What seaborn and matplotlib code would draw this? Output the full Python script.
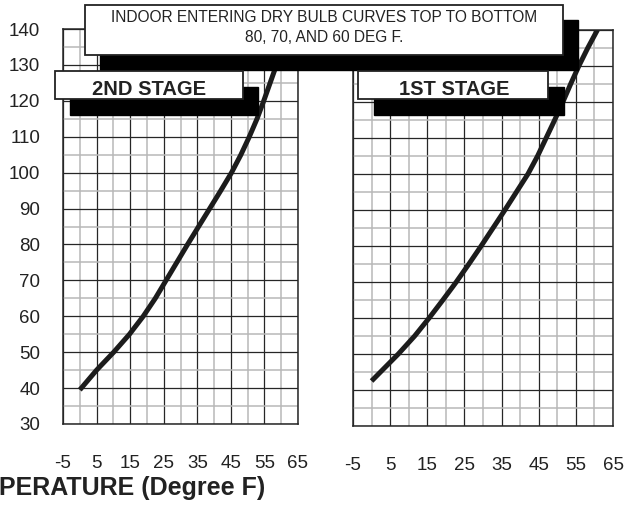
import pandas as pd
import seaborn as sns
import matplotlib.pyplot as plt
from matplotlib.patches import Rectangle

# outdoor temperature (deg F) vs reading
outdoor_2nd = [0, 5.0, 10.1, 14.8, 18.9, 22.5, 25.7, 28.9, 32.1, 35.4, 38.7, 42.0,
               45.2, 48.0, 50.5, 52.8, 54.8, 56.7, 58.6, 60.5, 62.4]
value_2nd = [39.5, 45, 50, 55, 60, 65, 70, 75, 80, 85, 90, 95,
             100, 105, 110, 115, 120, 125, 130, 135, 140]

outdoor_1st = [0, 2.4, 7.2, 11.6, 15.5, 19.2, 22.8, 26.2, 29.5, 32.7, 35.9, 39.0,
               42.1, 44.7, 47.0, 49.3, 51.5, 53.6, 55.8, 58.2, 60.8]
value_1st = [42.5, 45, 50, 55, 60, 65, 70, 75, 80, 85, 90, 95,
             100, 105, 110, 115, 120, 125, 130, 135, 140]

x_ticks = [-5, 5, 15, 25, 35, 45, 55, 65]
y_ticks = [30, 40, 50, 60, 70, 80, 90, 100, 110, 120, 130, 140]

df_2nd = pd.DataFrame({'outdoor': outdoor_2nd, 'value': value_2nd})
df_1st = pd.DataFrame({'outdoor': outdoor_1st, 'value': value_1st})

sns.set_style("white")
plt.rcParams['font.family'] = ['Liberation Sans', 'DejaVu Sans']
plt.rcParams['axes.unicode_minus'] = False

W, H = 635, 512
fig = plt.figure(figsize=(W / 100, H / 100), dpi=100)


def frac(x0, y0, x1, y1):
    # pixel box (top-left origin) -> figure fraction rect
    return [x0 / W, 1 - y1 / H, (x1 - x0) / W, (y1 - y0) / H]


ax1 = fig.add_axes(frac(63, 29, 298, 424))
ax2 = fig.add_axes(frac(353, 30, 613, 426))

for ax, df in [(ax1, df_2nd), (ax2, df_1st)]:
    sns.lineplot(data=df, x='outdoor', y='value', ax=ax, color='#1c1c1c',
                 linewidth=3.6, sort=False, estimator=None,
                 solid_joinstyle='round', solid_capstyle='butt')
    ax.set_xlim(-5, 65)
    ax.set_ylim(30, 140)
    ax.set_xticks(x_ticks)
    ax.set_xticks([t + 5 for t in x_ticks[:-1]], minor=True)
    ax.set_yticks(y_ticks)
    ax.set_yticks([t + 5 for t in y_ticks[:-1]], minor=True)
    ax.set_axisbelow(True)
    ax.grid(which='minor', color='#b8b8b8', linewidth=1.1)
    ax.grid(which='major', color='#262626', linewidth=0.9)
    ax.set_xlabel('')
    ax.set_ylabel('')
    for s in ax.spines.values():
        s.set_color('#262626')
        s.set_linewidth(1.1)
    ax.tick_params(which='major', direction='out', length=6.5, width=1,
                   color='#333333', labelcolor='#222222', labelsize=13.5)
    ax.tick_params(which='minor', length=0)
    ax.tick_params(axis='x', pad=16)
    ax.tick_params(axis='y', pad=10)

ax2.tick_params(axis='y', labelleft=False)


def shadow_box(x0, y0, x1, y1, dx, dy):
    sx0, sy0, sw, sh = frac(x0 + dx, y0 + dy, x1 + dx, y1 + dy)
    fig.add_artist(Rectangle((sx0, sy0), sw, sh, transform=fig.transFigure,
                             facecolor='black', edgecolor='black', zorder=5))
    bx0, by0, bw, bh = frac(x0, y0, x1, y1)
    fig.add_artist(Rectangle((bx0, by0), bw, bh, transform=fig.transFigure,
                             facecolor='white', edgecolor='#222222',
                             linewidth=1.3, zorder=6))


shadow_box(85, 5, 563, 55, 15, 15)
shadow_box(55, 71, 243, 99, 15, 16)
shadow_box(358, 71, 548, 99, 16, 16)

fig.text(324 / W, 1 - 18 / H, 'INDOOR ENTERING DRY BULB CURVES TOP TO BOTTOM',
         ha='center', va='center', fontsize=11.2, color='#222222', zorder=7)
fig.text(324 / W, 1 - 37 / H, '80, 70, AND 60 DEG F.',
         ha='center', va='center', fontsize=11.2, color='#222222', zorder=7)
fig.text(149 / W, 1 - 89.5 / H, '2ND STAGE', ha='center', va='center',
         fontsize=14.5, fontweight='bold', color='#222222', zorder=7)
fig.text(454 / W, 1 - 89.5 / H, '1ST STAGE', ha='center', va='center',
         fontsize=14.5, fontweight='bold', color='#222222', zorder=7)
fig.text(265 / W, 1 - 488 / H, 'PERATURE (Degree F)', ha='right', va='center',
         fontsize=18, fontweight='bold', color='#222222')

fig.savefig('out.png', dpi=100)
